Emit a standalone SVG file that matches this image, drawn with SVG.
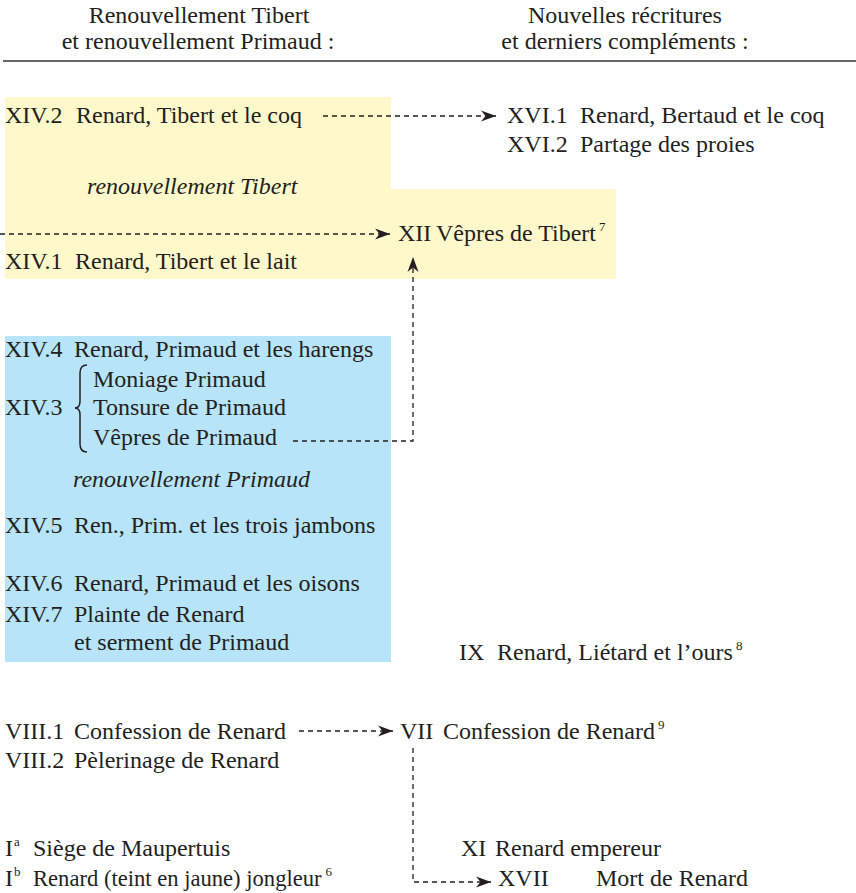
<svg xmlns="http://www.w3.org/2000/svg" width="856" height="893" viewBox="0 0 856 893">
<style>
text{font-size:24px;fill:#231f20}
.it{font-style:italic}
.sup{font-size:13px}
.con{fill:none;stroke:#231f20;stroke-width:1.3;stroke-dasharray:5 4}
.brace{fill:none;stroke:#231f20;stroke-width:1.5}
</style>
<defs>
<marker id="ah" markerUnits="userSpaceOnUse" viewBox="-16 -6 17 12" markerWidth="17" markerHeight="12" refX="0" refY="0" orient="auto">
<path d="M0,0 L-15,-5.5 L-10.5,0 L-15,5.5 Z" fill="#231f20"/>
</marker>
</defs>
<rect width="856" height="893" fill="#fff"/>
<g font-family="'Liberation Serif', 'DejaVu Serif', serif">
<g id="header">
<text x="199" y="23" text-anchor="middle">Renouvellement Tibert</text>
<text x="198" y="49" text-anchor="middle">et renouvellement Primaud :</text>
<text x="625" y="23" text-anchor="middle">Nouvelles récritures</text>
<text x="625" y="49" text-anchor="middle">et derniers compléments :</text>
<line x1="3" y1="61" x2="856" y2="61" stroke="#333" stroke-width="1.6"/>
</g>
<g id="zone-tibert">
<path d="M5,97 H391 V189 H616 V279 H5 Z" fill="#fff8cb"/>
</g>
<g id="zone-primaud">
<rect x="5" y="336" width="386" height="326" fill="#b7e4f8"/>
</g>
<g id="n-xiv2"><text x="5" y="123">XIV.2<tspan x="76">Renard, Tibert et le coq</tspan></text></g>
<g id="n-xvi1"><text x="507" y="123">XVI.1<tspan x="580">Renard, Bertaud et le coq</tspan></text></g>
<g id="n-xvi2"><text x="507" y="152">XVI.2<tspan x="580">Partage des proies</tspan></text></g>
<g id="l-tibert"><text class="it" x="87" y="194">renouvellement Tibert</text></g>
<g id="n-xii"><text x="398" y="241">XII<tspan x="436">Vêpres de Tibert</tspan><tspan class="sup" dx="3" dy="-10">7</tspan></text></g>
<g id="n-xiv1"><text x="5" y="269">XIV.1<tspan x="75">Renard, Tibert et le lait</tspan></text></g>
<g id="n-xiv4"><text x="5" y="357">XIV.4<tspan x="74">Renard, Primaud et les harengs</tspan></text></g>
<g id="n-xiv3">
<text x="5" y="415">XIV.3</text>
<path class="brace" d="M87,365 Q80,365 80,373 L80,401 Q80,408 75,408 Q80,408 80,415 L80,444 Q80,452 87,452"/>
<text x="93" y="387">Moniage Primaud</text>
<text x="93" y="415">Tonsure de Primaud</text>
<text x="93" y="445">Vêpres de Primaud</text>
</g>
<g id="l-primaud"><text class="it" x="73" y="487">renouvellement Primaud</text></g>
<g id="n-xiv5"><text x="5" y="533">XIV.5<tspan x="74">Ren., Prim. et les trois jambons</tspan></text></g>
<g id="n-xiv6"><text x="5" y="591">XIV.6<tspan x="74">Renard, Primaud et les oisons</tspan></text></g>
<g id="n-xiv7"><text x="5" y="622">XIV.7<tspan x="74">Plainte de Renard</tspan></text><text x="74" y="650">et serment de Primaud</text></g>
<g id="n-ix"><text x="459" y="660">IX<tspan x="497">Renard, Liétard et l’ours</tspan><tspan class="sup" dx="3" dy="-10">8</tspan></text></g>
<g id="n-viii1"><text x="5" y="739">VIII.1<tspan x="74">Confession de Renard</tspan></text></g>
<g id="n-viii2"><text x="5" y="768">VIII.2<tspan x="74">Pèlerinage de Renard</tspan></text></g>
<g id="n-vii"><text x="400" y="739">VII<tspan x="443">Confession de Renard</tspan><tspan class="sup" dx="3" dy="-10">9</tspan></text></g>
<g id="n-ia"><text x="5" y="856">I<tspan class="sup" dx="1" dy="-10">a</tspan><tspan x="33" dy="10">Siège de Maupertuis</tspan></text></g>
<g id="n-ib"><text x="5" y="886">I<tspan class="sup" dx="1" dy="-10">b</tspan><tspan x="33" dy="10" font-size="22.6">Renard (teint en jaune) jongleur</tspan><tspan class="sup" dx="4" dy="-10">6</tspan></text></g>
<g id="n-xi"><text x="461" y="856">XI<tspan x="495">Renard empereur</tspan></text></g>
<g id="n-xvii"><text x="498" y="886">XVII<tspan x="596">Mort de Renard</tspan></text></g>
</g>
<g id="connectors">
<path class="con" d="M323,116 H496" marker-end="url(#ah)"/>
<path class="con" d="M0,234 H390" marker-end="url(#ah)"/>
<path class="con" d="M293,441 H413 V257" marker-end="url(#ah)"/>
<path class="con" d="M299,731 H393" marker-end="url(#ah)"/>
<path class="con" d="M413,748 V882 H491" marker-end="url(#ah)"/>
</g>
</svg>
